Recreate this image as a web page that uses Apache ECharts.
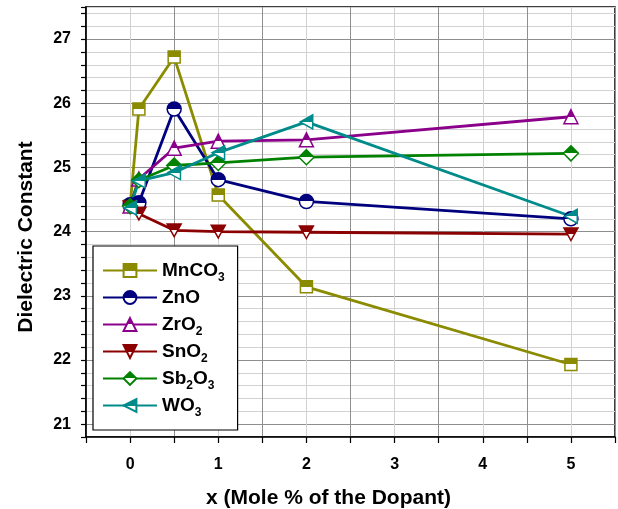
<!DOCTYPE html>
<html>
<head>
<meta charset="utf-8">
<script src="https://cdn.jsdelivr.net/npm/echarts@6/dist/echarts.min.js"></script>
<style>
html,body{margin:0;padding:0;background:#fff;}
#chart{width:618px;height:509px;}
</style>
</head>
<body>
<div id="chart"></div>
<script>
// ---- data ----
const xValues = [0, 0.1, 0.5, 1, 2, 5];
const seriesNames = ['MnCO3', 'ZnO', 'ZrO2', 'SnO2', 'Sb2O3', 'WO3'];
const mnco3 = [24.40, 25.91, 26.72, 24.57, 23.14, 21.93];
const zno   = [24.42, 24.45, 25.91, 24.81, 24.47, 24.20];
const zro2  = [24.40, 24.82, 25.30, 25.41, 25.43, 25.79];
const sno2  = [24.38, 24.28, 24.02, 24.00, 23.99, 23.96];
const sb2o3 = [24.40, 24.80, 25.03, 25.07, 25.16, 25.22];
const wo3   = [24.37, 24.79, 24.92, 25.23, 25.71, 24.24];
const xTickLabels = [0, 1, 2, 3, 4, 5];
const yTickLabels = [21, 22, 23, 24, 25, 26, 27];

const values = [mnco3, zno, zro2, sno2, sb2o3, wo3];
const colors = ['#8B8B00', '#00007F', '#8B008B', '#8B0000', '#008200', '#008B8B'];
const symbols = ['rect', 'circle', 'triangle', 'path://M0,0L10,0L5,9Z', 'diamond', 'path://M9,0L9,10L0,5Z'];
const sizes = [12, 14, 14, 14, 15, 14];

const FONT = '"Liberation Sans", Arial, sans-serif';

function halfFill(c) {
  return new echarts.graphic.LinearGradient(0, 0, 0, 1, [
    {offset: 0, color: c}, {offset: 0.5, color: c},
    {offset: 0.5, color: '#ffffff'}, {offset: 1, color: '#ffffff'}
  ]);
}

function richName(name) {
  let out = '';
  const parts = name.match(/[A-Za-z]+|\d+/g);
  let hasSub = false;
  parts.forEach(p => {
    if (/^\d+$/.test(p)) { out += '{s|' + p + '}'; hasSub = true; }
    else out += '{a|' + p + '}';
  });
  if (!hasSub) out += '{s| }';
  return out;
}

const series = seriesNames.map((n, i) => ({
  name: n,
  type: 'line',
  data: xValues.map((x, j) => [x, values[i][j]]),
  symbol: symbols[i],
  symbolSize: sizes[i],
  symbolKeepAspect: true,
  lineStyle: {color: colors[i], width: 2.8},
  itemStyle: {color: halfFill(colors[i]), borderColor: colors[i], borderWidth: 1.5},
  emphasis: {disabled: true},
  animation: false
}));

const chart = echarts.init(document.getElementById('chart'), null, {renderer: 'canvas'});
chart.setOption({
  animation: false,
  backgroundColor: '#ffffff',
  grid: {left: 86, right: 3, top: 7, bottom: 72, show: true, borderColor: '#000', borderWidth: 1.5,
         containLabel: false, outerBoundsMode: 'none'},
  xAxis: {
    type: 'value', min: -0.5, max: 5.5, interval: 0.5,
    name: 'x (Mole % of the Dopant)', nameLocation: 'middle', nameGap: 51,
    nameTextStyle: {fontSize: 21, fontWeight: 'bold', color: '#000', fontFamily: FONT, padding: [0, 44, 0, 0]},
    axisLine: {show: true, onZero: false, lineStyle: {color: '#000', width: 1.5}},
    axisTick: {show: true, length: 6, lineStyle: {color: '#000', width: 1.2}},
    axisLabel: {
      interval: 0, margin: 20, fontSize: 16, fontWeight: 'bold', color: '#000', fontFamily: FONT,
      formatter: v => (xTickLabels.indexOf(Math.round(v * 10) / 10) >= 0 ? String(Math.round(v)) : '')
    },
    splitLine: {show: true, lineStyle: {color: ['#8e8e8e', '#d2d2d2'], width: 1}}
  },
  yAxis: {
    type: 'value', min: 20.8, max: 27.5, interval: 0.2,
    name: 'Dielectric Constant', nameLocation: 'middle', nameGap: 49,
    nameTextStyle: {fontSize: 21, fontWeight: 'bold', color: '#000', fontFamily: FONT, padding: [0, 30, 0, 0]},
    axisLine: {show: true, onZero: false, lineStyle: {color: '#000', width: 1.5}},
    axisTick: {show: true, length: 5, lineStyle: {color: '#000', width: 1.2}},
    axisLabel: {
      interval: 0, margin: 15, fontSize: 16, fontWeight: 'bold', color: '#000', fontFamily: FONT,
      formatter: v => { const r = Math.round(v); return (Math.abs(v - r) < 1e-6 && yTickLabels.indexOf(r) >= 0) ? String(r) : ''; }
    },
    splitLine: {show: true, lineStyle: {color: ['#d2d2d2', '#8e8e8e', '#d2d2d2', '#d2d2d2', '#d2d2d2'], width: 1}}
  },
  legend: {
    orient: 'vertical', left: 93, top: 246,
    padding: [11, 13, 11, 9],
    backgroundColor: '#fff', borderColor: '#000', borderWidth: 1.2,
    itemWidth: 54, itemHeight: 16, itemGap: 0,
    formatter: n => richName(n),
    textStyle: {
      color: '#000', fontFamily: FONT, fontWeight: 'bold',
      rich: {
        a: {fontSize: 19, fontWeight: 'bold', fontFamily: FONT, color: '#000', lineHeight: 27, verticalAlign: 'middle'},
        s: {fontSize: 12, fontWeight: 'bold', fontFamily: FONT, color: '#000', lineHeight: 12, padding: [15, 0, 0, 0], verticalAlign: 'bottom'}
      }
    },
    data: seriesNames
  },
  series: series
});
</script>
</body>
</html>
